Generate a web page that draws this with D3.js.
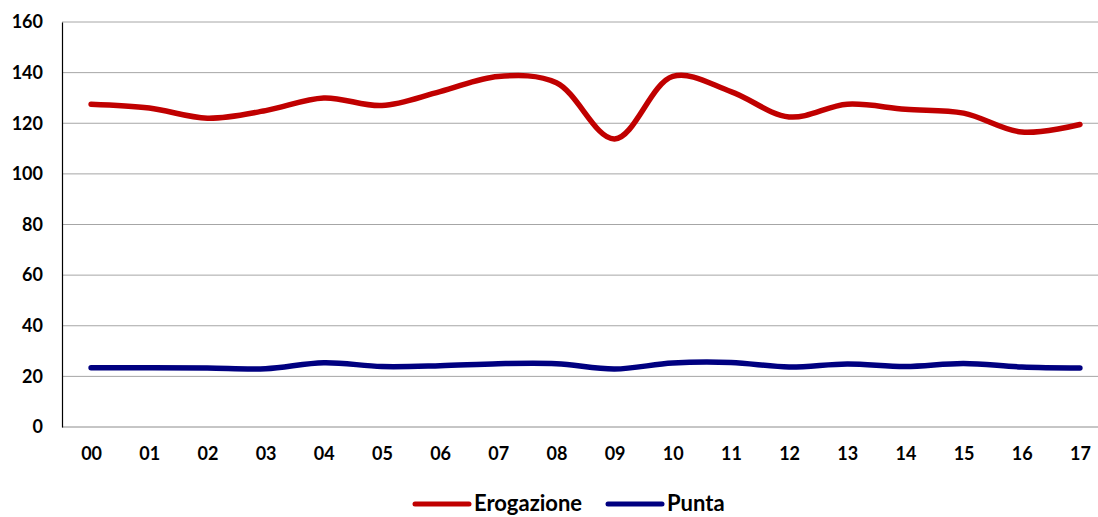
<!DOCTYPE html>
<html>
<head>
<meta charset="utf-8">
<script src="https://cdn.jsdelivr.net/npm/d3@7/dist/d3.min.js"></script>
<style>
  body { margin: 0; background: #fff; }
  svg { display: block; font-family: Lato, "Liberation Sans", sans-serif; font-weight: bold; }
</style>
</head>
<body>
<div id="chart"></div>
<script>
var hours = ['00','01','02','03','04','05','06','07','08','09','10','11','12','13','14','15','16','17'];
var erogazione = [127.5, 126, 122, 125, 130, 127, 132.5, 138.5, 136, 113.8, 138.5, 132.5, 122.5, 127.5, 125.5, 124, 116.5, 119.5];
var punta = [23.4, 23.4, 23.3, 23, 25.4, 23.9, 24.2, 25, 25, 22.9, 25.3, 25.5, 23.7, 24.9, 23.9, 25.1, 23.7, 23.3];
var yTicks = [0, 20, 40, 60, 80, 100, 120, 140, 160];
var seriesNames = ['Erogazione', 'Punta'];
var seriesColors = ['#c00000', '#000080'];

var width = 1098, height = 517;
var margin = {top: 22, right: 0, bottom: 90, left: 62};

var svg = d3.select('#chart')
  .append('svg')
  .attr('width', width)
  .attr('height', height);

var x = d3.scalePoint()
  .domain(hours)
  .range([margin.left, 1109])
  .padding(0.5);

var y = d3.scaleLinear()
  .domain([0, 160])
  .range([height - margin.bottom, margin.top]);

// gridlines
svg.append('g')
  .selectAll('line')
  .data(yTicks)
  .enter()
  .append('line')
  .attr('x1', margin.left)
  .attr('x2', width)
  .attr('y1', function (d) { return y(d); })
  .attr('y2', function (d) { return y(d); })
  .style('stroke', function (d) { return d === 0 ? '#8c8c8c' : '#a6a6a6'; })
  .style('stroke-width', 1);

// y axis
var yAxis = svg.append('g')
  .attr('transform', 'translate(' + margin.left + ',0)')
  .call(d3.axisLeft(y).tickValues(yTicks).tickSize(0).tickPadding(19));
yAxis.select('.domain').style('stroke', '#000').style('stroke-width', 1.2);
yAxis.selectAll('text')
  .style('font-size', '18px')
  .style('font-family', 'Lato, sans-serif')
  .style('font-weight', 'bold')
  .attr('fill', '#000');

// x axis
var xAxis = svg.append('g')
  .attr('transform', 'translate(0,' + y(0) + ')')
  .call(d3.axisBottom(x).tickSize(0).tickPadding(20));
xAxis.select('.domain').remove();
xAxis.selectAll('text')
  .style('font-size', '18px')
  .style('font-family', 'Lato, sans-serif')
  .style('font-weight', 'bold')
  .attr('fill', '#000');

var line = d3.line()
  .x(function (d, i) { return x(hours[i]); })
  .y(function (d) { return y(d); })
  .curve(d3.curveCatmullRom.alpha(0.5));

[erogazione, punta].forEach(function (s, i) {
  svg.append('path')
    .datum(s)
    .attr('d', line)
    .style('fill', 'none')
    .style('stroke', seriesColors[i])
    .style('stroke-width', 5.5)
    .style('stroke-linecap', 'round')
    .style('stroke-linejoin', 'round');
});

// legend
var legendPos = [415, 608];
var legend = svg.append('g');
seriesNames.forEach(function (name, i) {
  legend.append('line')
    .attr('x1', legendPos[i])
    .attr('x2', legendPos[i] + 54)
    .attr('y1', 504)
    .attr('y2', 504)
    .style('stroke', seriesColors[i])
    .style('stroke-width', 5)
    .style('stroke-linecap', 'round');
  legend.append('text')
    .attr('x', legendPos[i] + 59)
    .attr('y', 511)
    .style('font-size', '22px')
    .attr('fill', '#000')
    .text(name);
});
</script>
</body>
</html>
